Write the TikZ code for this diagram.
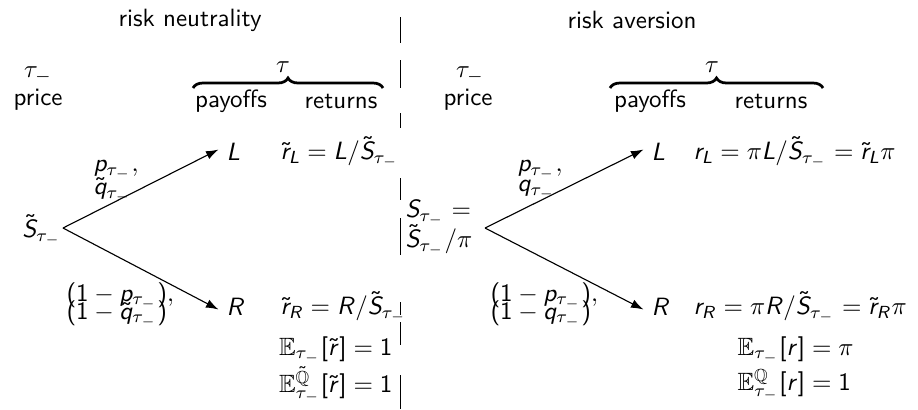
\documentclass[tikz,border=0pt]{standalone}
\usepackage{amssymb}
\usetikzlibrary{decorations.pathreplacing,arrows.meta}
\renewcommand{\familydefault}{\sfdefault}
\DeclareSymbolFont{sfit}{OT1}{cmss}{m}{sl}
\SetSymbolFont{operators}{normal}{OT1}{cmss}{m}{n}
\DeclareMathSymbol{L}{\mathalpha}{sfit}{`L}
\DeclareMathSymbol{R}{\mathalpha}{sfit}{`R}
\DeclareMathSymbol{S}{\mathalpha}{sfit}{`S}
\DeclareMathSymbol{p}{\mathalpha}{sfit}{`p}
\DeclareMathSymbol{q}{\mathalpha}{sfit}{`q}
\DeclareMathSymbol{r}{\mathalpha}{sfit}{`r}
\begin{document}
\begin{tikzpicture}[x=0.4pt,y=-0.4pt,
  txt/.style={inner sep=0pt, font=\fontsize{10}{12}\selectfont},
  lt/.style={txt, anchor=west},
  rt/.style={txt, anchor=east},
  arr/.style={-{Latex[length=5pt,width=3.5pt]}, line width=0.45pt},
  brc/.style={decorate, decoration={brace, amplitude=4pt}, line width=1.1pt},
  sep/.style={line width=0.35pt}]
\useasboundingbox (0,0) rectangle (918,409);
% separator
\foreach \a/\b in {17/43,60/88,113/128,178/200,218/255,302/315,322/345,375/409}
  \draw[sep] (400,\a) -- (400,\b);
% ---------- left: risk neutrality
\node[txt] (t1) at (190,20) {risk neutrality};
\node[txt] (tauA) at (38,75) {$\tau_-$};
\node[txt] (priceA) at (38,100) {price};
\node[txt] (payA) at (231,101) {payoffs};
\node[txt] (retA) at (341,101) {returns};
\coordinate (bA1) at (193,88);
\coordinate (bA2) at (383,88);
\draw[brc] (bA1) -- (bA2);
\node[txt] (tauB) at (283,67) {$\tau$};
\node[rt] (SA) at (62,230) {$\tilde S_{\tau_-}$};
\coordinate (rootA) at (63,228);
\node[lt] (LA) at (226,152) {$L$};
\node[lt] (RA) at (226,307) {$R$};
\draw[arr] (rootA) -- ([xshift=-3pt,yshift=1pt]LA.west);
\draw[arr] (rootA) -- ([xshift=-3pt,yshift=-1pt]RA.west);
\node[lt] (pA) at (93,170) {$p_{\tau_-},$};
\node[lt] (qA) at (93,190) {$\tilde q_{\tau_-}$};
\node[lt] (pA2) at (66,296) {$(1-p_{\tau_-}),$};
\node[lt] (qA2) at (66,314) {$(1-\tilde q_{\tau_-})$};
\node[lt] (rLA) at (280,152) {$\tilde r_L = L/\tilde S_{\tau_-}$};
\node[lt] (rRA) at (280,307) {$\tilde r_R = R/\tilde S_{\tau_-}$};
\node[rt] (EA) at (393,350) {$\mathbb{E}_{\tau_-}[\tilde r] = 1$};
\node[rt] (EQA) at (393,385) {$\mathbb{E}^{\tilde{\mathbb{Q}}}_{\tau_-}[\tilde r] = 1$};
% ---------- right: risk aversion
\node[txt] (t2) at (632,20) {risk aversion};
\node[txt] (tauC) at (470,75) {$\tau_-$};
\node[txt] (priceC) at (468,100) {price};
\node[txt] (payC) at (650,101) {payoffs};
\node[txt] (retC) at (771,101) {returns};
\coordinate (bC1) at (610,88);
\coordinate (bC2) at (823,88);
\draw[brc] (bC1) -- (bC2);
\node[txt] (tauD) at (712,67) {$\tau$};
\node[lt] (SC1) at (405,213) {$S_{\tau_-}=$};
\node[lt] (SC2) at (405,240) {$\tilde S_{\tau_-}/\pi$};
\coordinate (rootC) at (485,228);
\node[lt] (LC) at (651,152) {$L$};
\node[lt] (RC) at (651,307) {$R$};
\draw[arr] (rootC) -- ([xshift=-3pt,yshift=1pt]LC.west);
\draw[arr] (rootC) -- ([xshift=-3pt,yshift=-1pt]RC.west);
\node[lt] (pC) at (517,170) {$p_{\tau_-},$};
\node[lt] (qC) at (517,190) {$q_{\tau_-}$};
\node[lt] (pC2) at (490,296) {$(1-p_{\tau_-}),$};
\node[lt] (qC2) at (490,314) {$(1-q_{\tau_-})$};
\node[lt] (rLC) at (693,152) {$r_L = \pi L/\tilde S_{\tau_-} = \tilde r_L\pi$};
\node[lt] (rRC) at (693,307) {$r_R = \pi R/\tilde S_{\tau_-} = \tilde r_R\pi$};
\node[lt] (EC) at (737,350) {$\mathbb{E}_{\tau_-}[r] = \pi$};
\node[lt] (EQC) at (737,385) {$\mathbb{E}^{\mathbb{Q}}_{\tau_-}[r] = 1$};
\end{tikzpicture}
\end{document}
